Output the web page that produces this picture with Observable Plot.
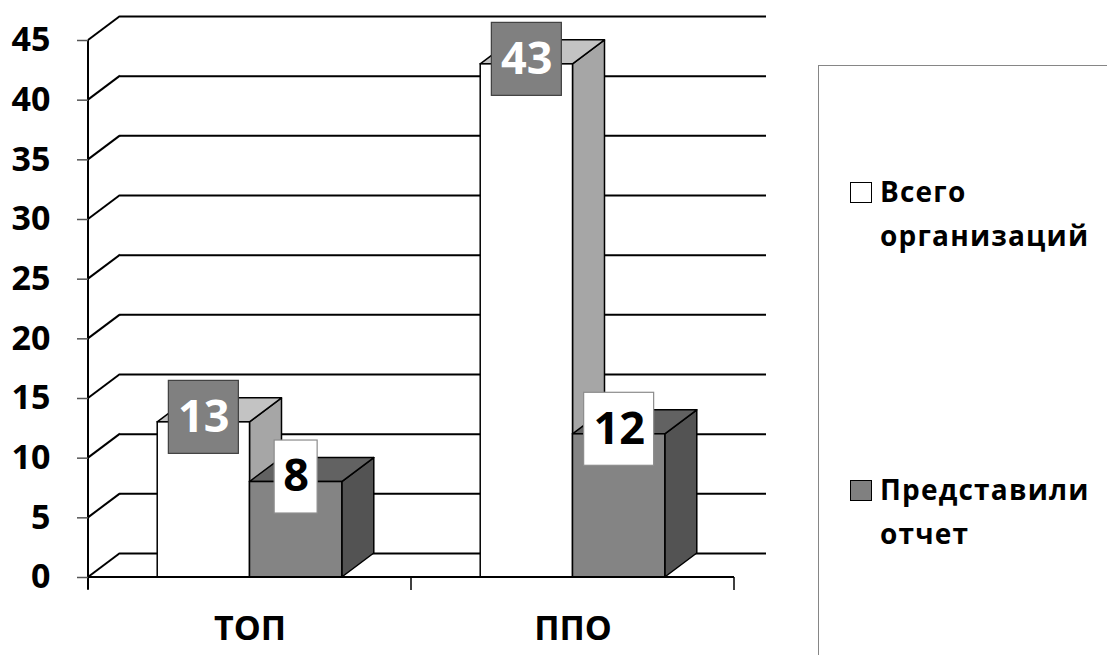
<!DOCTYPE html>
<html><head><meta charset="utf-8">
<script src="https://cdn.jsdelivr.net/npm/d3@7"></script>
<script src="https://cdn.jsdelivr.net/npm/@observablehq/plot@0.6"></script>
<style>
html,body{margin:0;padding:0;background:#fff;overflow:hidden;}
#wrap{position:relative;width:1107px;height:655px;overflow:hidden;font-family:"Open Sans",sans-serif;background:#fff;}
#chart{position:absolute;left:0;top:0;}
#legend{position:absolute;left:818px;top:65px;width:400px;height:700px;border:1.5px solid #868686;box-sizing:border-box;}
.sw{position:absolute;left:850px;width:22px;height:21px;border:1.6px solid #000;box-sizing:border-box;}
.lt{position:absolute;left:880px;font-size:28px;font-weight:700;line-height:44px;letter-spacing:1.2px;color:#000;white-space:nowrap;}
</style></head>
<body>
<div id="wrap"><div id="chart"></div><div id="legend"></div></div>
<script>
// ---- data ----
const categories = ["ТОП", "ППО"];
const seriesNames = ["Всего организаций", "Представили отчет"];
const totalOrgs = [13, 43];
const reported = [8, 12];
const yTicks = [0, 5, 10, 15, 20, 25, 30, 35, 40, 45];

// ---- styles ----
const seriesValues = [totalOrgs, reported];
const frontColor = ["#ffffff", "#848484"];
const topColor = ["#c3c3c3", "#626262"];
const sideColor = ["#a6a6a6", "#535353"];
const swatchColor = ["#ffffff", "#808080"];
const labelBoxFill = ["#808080", "#ffffff"];
const labelBoxStroke = ["#3f3f3f", "#8c8c8c"];
const labelTextFill = ["#ffffff", "#000000"];
const DX = 32, DY = 24;     // 3D depth offset (px)
const GAP = 1.5;            // Excel gap width 150%
const W = 1107, H = 655, ML = 88, MR = 373, MT = 40, MB = 78;
const bandW = (W - ML - MR) / categories.length;
const barW = bandW / (seriesValues.length + GAP);

const rows = seriesValues.map((vals, si) =>
  categories.map((c, ci) => ({category: c, series: seriesNames[si], si, value: vals[ci]})));

// left wall diagonals, drawn through the plot's scales
function wallMark(index, scales) {
  const {x, y} = scales;
  const [x0] = x.range();
  const g = d3.create("svg:g").attr("fill", "none").attr("stroke", "#000").attr("stroke-width", 2);
  for (const t of yTicks) {
    g.append("line").attr("x1", x0).attr("y1", y(t)).attr("x2", x0 + DX).attr("y2", y(t) - DY);
  }
  return g.node();
}
function axisLinesMark(index, scales) {
  const {x, y} = scales;
  const [x0, x1] = x.range();
  const bw = x.bandwidth();
  const g = d3.create("svg:g").attr("fill", "none").attr("stroke", "#000").attr("stroke-width", 2);
  const yb = y(0), ytop = y(d3.max(yTicks));
  g.append("line").attr("x1", x0).attr("y1", ytop).attr("x2", x0).attr("y2", yb + 12);
  g.append("line").attr("x1", x0).attr("y1", yb).attr("x2", x1).attr("y2", yb);
  const bounds = [x0, ...categories.map(c => x(c) + bw)];
  for (const b of bounds) g.append("line").attr("x1", b).attr("y1", yb).attr("x2", b).attr("y2", yb + 13).attr("stroke-width", 1.5);
  return g.node();
}
function facesMark(si) {
  return (index, scales) => {
    const {x, y} = scales;
    const bw = x.bandwidth() / (seriesValues.length + GAP);
    const g = d3.create("svg:g").attr("stroke", "#000").attr("stroke-width", 1.5).attr("stroke-linejoin", "round");
    categories.forEach((c, ci) => {
      const v = seriesValues[si][ci];
      const xl = x(c) + bw * (GAP / 2 + si), xr = xl + bw;
      const yt = y(v), yb = y(0);
      g.append("path").attr("fill", sideColor[si])
        .attr("d", `M${xr},${yb}L${xr},${yt}L${xr + DX},${yt - DY}L${xr + DX},${yb - DY}Z`);
      g.append("path").attr("fill", topColor[si])
        .attr("d", `M${xl},${yt}L${xr},${yt}L${xr + DX},${yt - DY}L${xl + DX},${yt - DY}Z`);
    });
    return g.node();
  };
}
const LABEL_DY = -5;
function labelBoxMark(si) {
  return (index, scales) => {
    const {x, y} = scales;
    const bw = x.bandwidth() / (seriesValues.length + GAP);
    const g = d3.create("svg:g");
    categories.forEach((c, ci) => {
      const v = seriesValues[si][ci];
      const cx = x(c) + bw * (GAP / 2 + si + 0.5);
      const cy = y(v) + LABEL_DY;
      const w = 16 + 27 * String(v).length, h = 73;
      g.append("rect").attr("x", cx - w / 2).attr("y", cy - h / 2).attr("width", w).attr("height", h)
        .attr("fill", labelBoxFill[si]).attr("stroke", labelBoxStroke[si]).attr("stroke-width", 1.2);
    });
    return g.node();
  };
}

const marks = [
  Plot.ruleY(yTicks, {y: d => d, dx: DX, dy: -DY, stroke: "#000", strokeWidth: 2}),
  wallMark
];
seriesValues.forEach((vals, si) => {
  marks.push(facesMark(si));
  marks.push(Plot.barY(rows[si], {
    x: "category", y: "value", fill: frontColor[si], stroke: "#000", strokeWidth: 1.5,
    insetLeft: barW * (GAP / 2 + si), insetRight: barW * (seriesValues.length - 1 - si + GAP / 2)
  }));
});
marks.push(axisLinesMark);
seriesValues.forEach((vals, si) => {
  marks.push(labelBoxMark(si));
  marks.push(Plot.text(rows[si], {
    x: "category", y: "value", text: d => String(d.value),
    dx: barW * (si + 0.5 - seriesValues.length / 2), dy: LABEL_DY,
    fill: labelTextFill[si], fontSize: 45, fontWeight: "bold", textAnchor: "middle", lineAnchor: "middle"
  }));
});
marks.push(Plot.axisY({ticks: yTicks, label: null, tickSize: 11, tickPadding: 27, fontSize: 34, fontWeight: "bold", stroke: "#555", strokeWidth: 1.5, fill: "#000"}));
marks.push(Plot.axisX({label: null, tickSize: 0, tickPadding: 38, fontSize: 34, fontWeight: "bold", fill: "#000"}));

const chart = Plot.plot({
  width: W, height: H,
  marginLeft: ML, marginRight: MR, marginTop: MT, marginBottom: MB,
  x: {domain: categories, padding: 0, axis: null, label: null},
  y: {domain: [0, d3.max(yTicks)], axis: null, label: null},
  style: {fontFamily: "Open Sans", fontWeight: "bold", background: "#fff", color: "#000", overflow: "visible"},
  marks
});
document.getElementById("chart").appendChild(chart);

// legend
const wrap = document.getElementById("wrap");
const swatchTops = [182, 480];
const textTops = [169, 467];
seriesNames.forEach((name, si) => {
  const sw = document.createElement("div");
  sw.className = "sw";
  sw.style.top = swatchTops[si] + "px";
  sw.style.background = swatchColor[si];
  wrap.appendChild(sw);
  const t = document.createElement("div");
  t.className = "lt";
  t.style.top = textTops[si] + "px";
  t.innerHTML = name.split(" ").join("<br>");
  wrap.appendChild(t);
});
</script>
</body></html>
